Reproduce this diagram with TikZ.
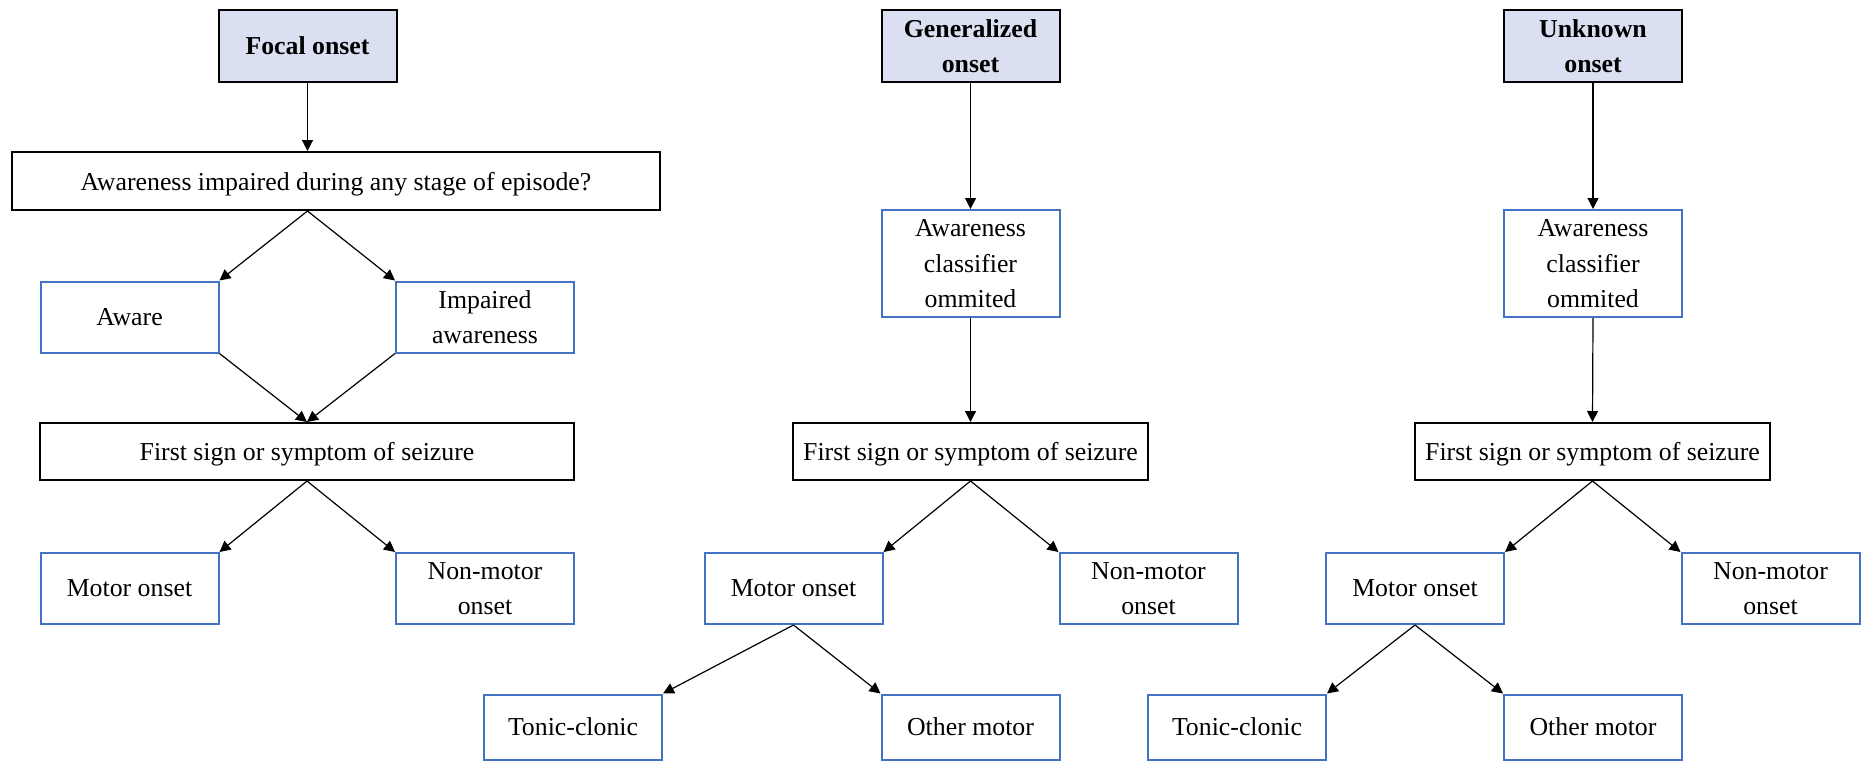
\documentclass[tikz,border=0pt]{standalone}
\usepackage{fontspec}
\setmainfont{Liberation Serif}
\usetikzlibrary{arrows.meta}
\definecolor{hdrfill}{HTML}{DAE0F2}
\definecolor{boxblue}{HTML}{4472C4}
\begin{document}
\begin{tikzpicture}[x=0.5pt, y=-0.5pt]
\tikzset{szbase/.style={shape=rectangle, inner sep=0pt, align=center, text depth=0pt, line width=1pt, font=\fontsize{12.9pt}{17.7pt}\selectfont}}
\tikzset{szhead/.style={szbase, draw=black, fill=hdrfill, font=\fontsize{12.9pt}{17.7pt}\selectfont\bfseries, minimum width=89pt, minimum height=36pt}}
\tikzset{szq/.style={szbase, draw=black, minimum height=28.5pt}}
\tikzset{szbox/.style={szbase, draw=boxblue, minimum width=89pt, minimum height=35.5pt}}
\tikzset{szedge/.style={-{Triangle[length=5.5pt, width=5.5pt]}, line width=0.6pt}}
\useasboundingbox (0,0) rectangle (1864,761);
% focal onset
\node (f0) [szhead]                                          at ( 307.5,  46) {Focal onset};
\node (f1) [szq, minimum width=324pt, minimum height=29pt]   at ( 336,   181) {Awareness impaired during any stage of episode?};
\node (f2) [szbox]                                           at ( 129.5, 317) {Aware};
\node (f3) [szbox]                                           at ( 485,   317) {Impaired\\awareness};
\node (f4) [szq, minimum width=267pt]                        at ( 307,   451.5) {First sign or symptom of seizure};
\node (f5) [szbox]                                           at ( 129.5, 588.5) {Motor onset};
\node (f6) [szbox]                                           at ( 485,   588.5) {Non-motor\\onset};
% generalized onset
\node (g0) [szhead]                                          at ( 970.5,  46) {Generalized\\onset};
\node (g1) [szbox, minimum height=53.5pt]                    at ( 970.5, 263.5) {Awareness\\classifier\\ommited};
\node (g2) [szq, minimum width=177.5pt]                      at ( 970.5, 451.5) {First sign or symptom of seizure};
\node (g3) [szbox]                                           at ( 793.5, 588.5) {Motor onset};
\node (g4) [szbox]                                           at (1148.5, 588.5) {Non-motor\\onset};
\node (g5) [szbox, minimum height=32.5pt]                    at ( 573,   727) {Tonic-clonic};
\node (g6) [szbox, minimum height=32.5pt]                    at ( 970.5, 727) {Other motor};
% unknown onset
\node (u0) [szhead]                                          at (1593,    46) {Unknown\\onset};
\node (u1) [szbox, minimum height=53.5pt]                    at (1593,   263.5) {Awareness\\classifier\\ommited};
\node (u2) [szq, minimum width=177.5pt]                      at (1592.5, 451.5) {First sign or symptom of seizure};
\node (u3) [szbox]                                           at (1415,   588.5) {Motor onset};
\node (u4) [szbox]                                           at (1770.5, 588.5) {Non-motor\\onset};
\node (u5) [szbox, minimum height=32.5pt]                    at (1237,   727) {Tonic-clonic};
\node (u6) [szbox, minimum height=32.5pt]                    at (1593,   727) {Other motor};
% focal links
\draw[szedge] (f0.south) to (f0 |- f1.north);
\draw[szedge] (f0 |- f1.south) to (f2.north east);
\draw[szedge] (f0 |- f1.south) to (f3.north west);
\draw[szedge] (f2.south east) to (f4.north);
\draw[szedge] (f3.south west) to (f4.north);
\draw[szedge] (f4.south) to (f5.north east);
\draw[szedge] (f4.south) to (f6.north west);
% generalized links
\draw[szedge] (g0.south) to (g1.north);
\draw[szedge] (g1.south) to (g2.north);
\draw[szedge] (g2.south) to (g3.north east);
\draw[szedge] (g2.south) to (g4.north west);
\draw[szedge] (g3.south) to (g5.north east);
\draw[szedge] (g3.south) to (g6.north west);
% unknown links
\draw[szedge] (u0.south) to (u1.north);
\draw[szedge] (u1.south) to (u2.north);
\draw[szedge] (u2.south) to (u3.north east);
\draw[szedge] (u2.south) to (u4.north west);
\draw[szedge] (u3.south) to (u5.north east);
\draw[szedge] (u3.south) to (u6.north west);
\end{tikzpicture}
\end{document}
